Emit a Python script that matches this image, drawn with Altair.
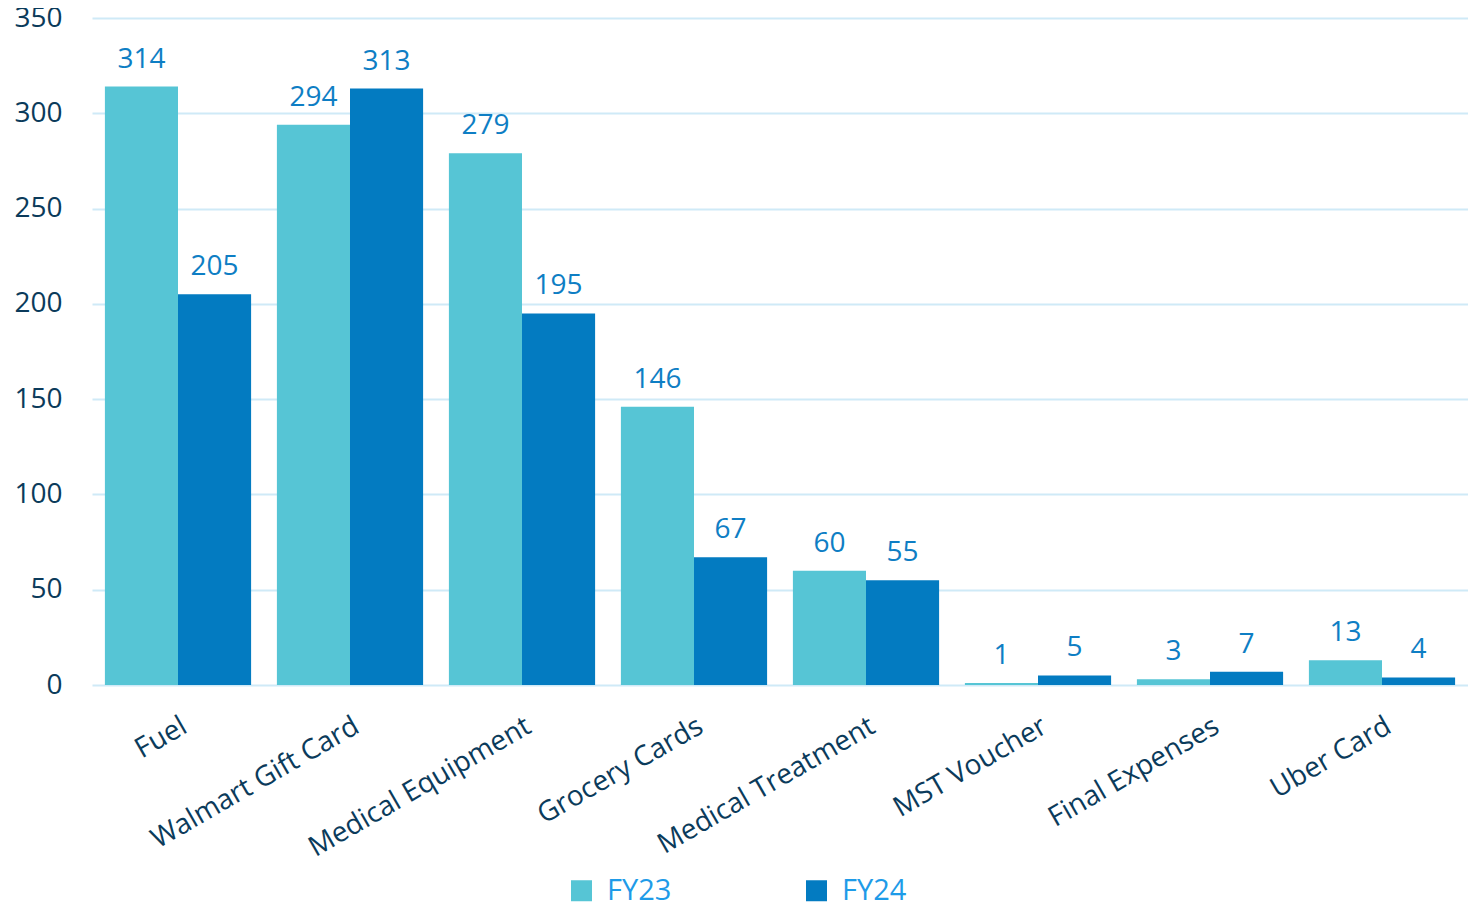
import altair as alt
import pandas as pd

categories = ["Fuel", "Walmart Gift Card", "Medical Equipment", "Grocery Cards",
              "Medical Treatment", "MST Voucher", "Final Expenses", "Uber Card"]
fy23 = [314, 294, 279, 146, 60, 1, 3, 13]
fy24 = [205, 313, 195, 67, 55, 5, 7, 4]
series = ["FY23", "FY24"]
colors = ["#56C5D5", "#037BC1"]
y_ticks = [0, 50, 100, 150, 200, 250, 300, 350]

rows = []
for c, a, b in zip(categories, fy23, fy24):
    rows.append({"category": c, "series": "FY23", "value": a})
    rows.append({"category": c, "series": "FY24", "value": b})
df = pd.DataFrame(rows)

FONT = "Open Sans"

x = alt.X("category:N", sort=categories,
          scale=alt.Scale(paddingInner=0.15, paddingOuter=0.075),
          axis=alt.Axis(title=None, labelAngle=-30, labelAlign="right", labelBaseline="top",
                        labelPadding=27, labelFont=FONT, labelFontSize=28,
                        labelColor="#0B3B5B", ticks=False, domain=False, labelLimit=500))
y = alt.Y("value:Q", scale=alt.Scale(domain=[0, 350]),
          axis=alt.Axis(values=y_ticks, title=None, grid=True, gridColor="#CFEAF7",
                        gridWidth=2, domain=False, ticks=False, labelPadding=30,
                        labelFont=FONT, labelFontSize=28, labelColor="#0B3B5B"))
xo = alt.XOffset("series:N", sort=series, scale=alt.Scale(paddingInner=0, paddingOuter=0))

bars = alt.Chart(df).mark_bar().encode(
    x=x, y=y, xOffset=xo,
    color=alt.Color("series:N", scale=alt.Scale(domain=series, range=colors),
                    legend=alt.Legend(title=None, orient="none", legendX=475, legendY=858,
                                      direction="horizontal", symbolType="square",
                                      symbolSize=441, symbolStrokeWidth=0,
                                      labelFontSize=29, labelFont=FONT, labelColor="#1E9BE8",
                                      labelBaseline="middle",
                                      columnPadding=130, labelOffset=11)),
)

labels = alt.Chart(df).mark_text(dy=-19, baseline="alphabetic", fontSize=28, font=FONT,
                                 color="#0E7EC4").encode(
    x=x, y=y, xOffset=xo, text=alt.Text("value:Q"))

chart = (bars + labels).properties(
    width=1376, height=667,
    autosize=alt.AutoSizeParams(type="none"),
    padding={"left": 84, "top": 10, "right": 0, "bottom": 219},
).configure_view(stroke=None)

chart.save("out.html", embed_options={"renderer": "svg", "actions": False})
